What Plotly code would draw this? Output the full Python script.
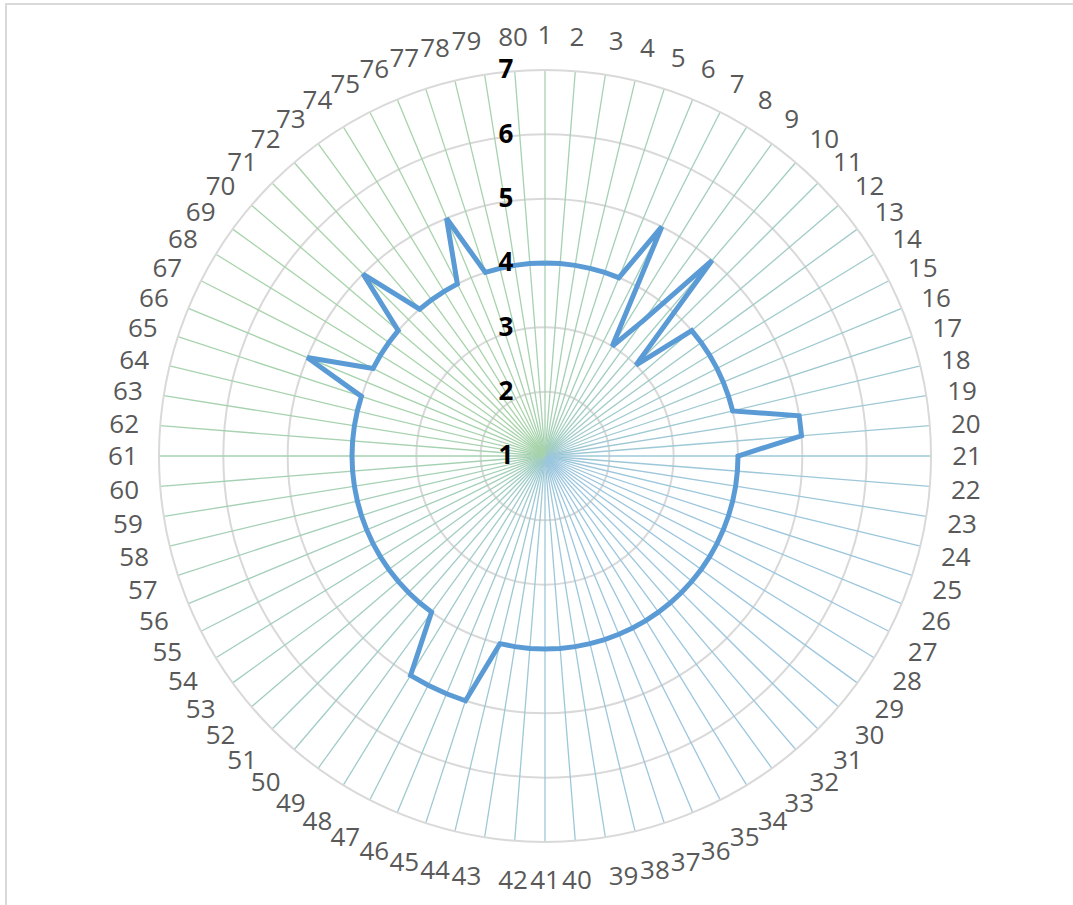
import plotly.graph_objects as go
import numpy as np

categories = [str(i) for i in range(1, 81)]
values = [4, 4, 4, 4, 4, 4, 5, 3, 3.6, 5,
          3, 4, 4, 4, 4, 4, 4, 4, 5, 5,
          4, 4, 4, 4, 4, 4, 4, 4, 4, 4,
          4, 4, 4, 4, 4, 4, 4, 4, 4, 4,
          4, 4, 4, 4, 5, 5, 5, 5, 4, 4,
          4, 4, 4, 4, 4, 4, 4, 4, 4, 4,
          4, 4, 4, 4, 4, 5, 4, 4, 4, 4,
          5, 4, 4, 4, 4, 5, 4, 4, 4, 4]
radial_ticks = [1, 2, 3, 4, 5, 6, 7]

W, H = 1073, 905
cx, cy, R = 545, 456, 386

fig = go.Figure()

# spokes (angular gridlines) with a green -> blue tint
green = np.array([168, 212, 170])
blue = np.array([156, 198, 224])
n = len(categories)
for i, c in enumerate(categories):
    th = np.deg2rad(i * 360 / n)
    t = ((np.sin(th) - np.cos(th)) / np.sqrt(2) + 1) / 2
    col = green * (1 - t) + blue * t
    fig.add_trace(go.Scatterpolar(
        r=[radial_ticks[0], radial_ticks[-1]], theta=[c, c], mode="lines",
        line=dict(color="rgb(%d,%d,%d)" % tuple(col.astype(int)), width=1.3),
        hoverinfo="skip", showlegend=False))

fig.add_trace(go.Scatterpolar(
    r=values + values[:1], theta=categories + categories[:1], mode="lines",
    line=dict(color="#5b9bd5", width=5), showlegend=False))

fig.update_layout(
    width=W, height=H,
    margin=dict(l=0, r=0, t=0, b=0),
    paper_bgcolor="white",
    polar=dict(
        bgcolor="white",
        domain=dict(x=[(cx - R) / W, (cx + R) / W], y=[(H - cy - R) / H, (H - cy + R) / H]),
        angularaxis=dict(
            type="category", categoryarray=categories, direction="clockwise", rotation=90,
            showgrid=False, showline=True, linecolor="#d9d9d9", linewidth=2,
            ticks="outside", ticklen=15, tickcolor="rgba(0,0,0,0)",
            tickfont=dict(family="Open Sans", size=26, color="#595959"),
        ),
        radialaxis=dict(
            range=[1, 7], tickvals=radial_ticks, ticktext=[str(v) for v in radial_ticks],
            angle=90, tickangle=90, side="counterclockwise",
            showline=False, gridcolor="#d9d9d9", gridwidth=1.5,
            ticks="outside", ticklen=22, tickcolor="rgba(0,0,0,0)",
            tickfont=dict(family="Open Sans", size=26, color="black", weight="bold"),
        ),
    ),
    shapes=[dict(type="rect", xref="paper", yref="paper",
                 x0=6 / W, x1=1.02, y0=-0.02, y1=1 - 4 / H,
                 line=dict(color="#d9d9d9", width=2))],
)

fig.write_html("out.html", config={"displayModeBar": False},
               post_script="document.body.style.margin='0';document.body.style.padding='0';")
